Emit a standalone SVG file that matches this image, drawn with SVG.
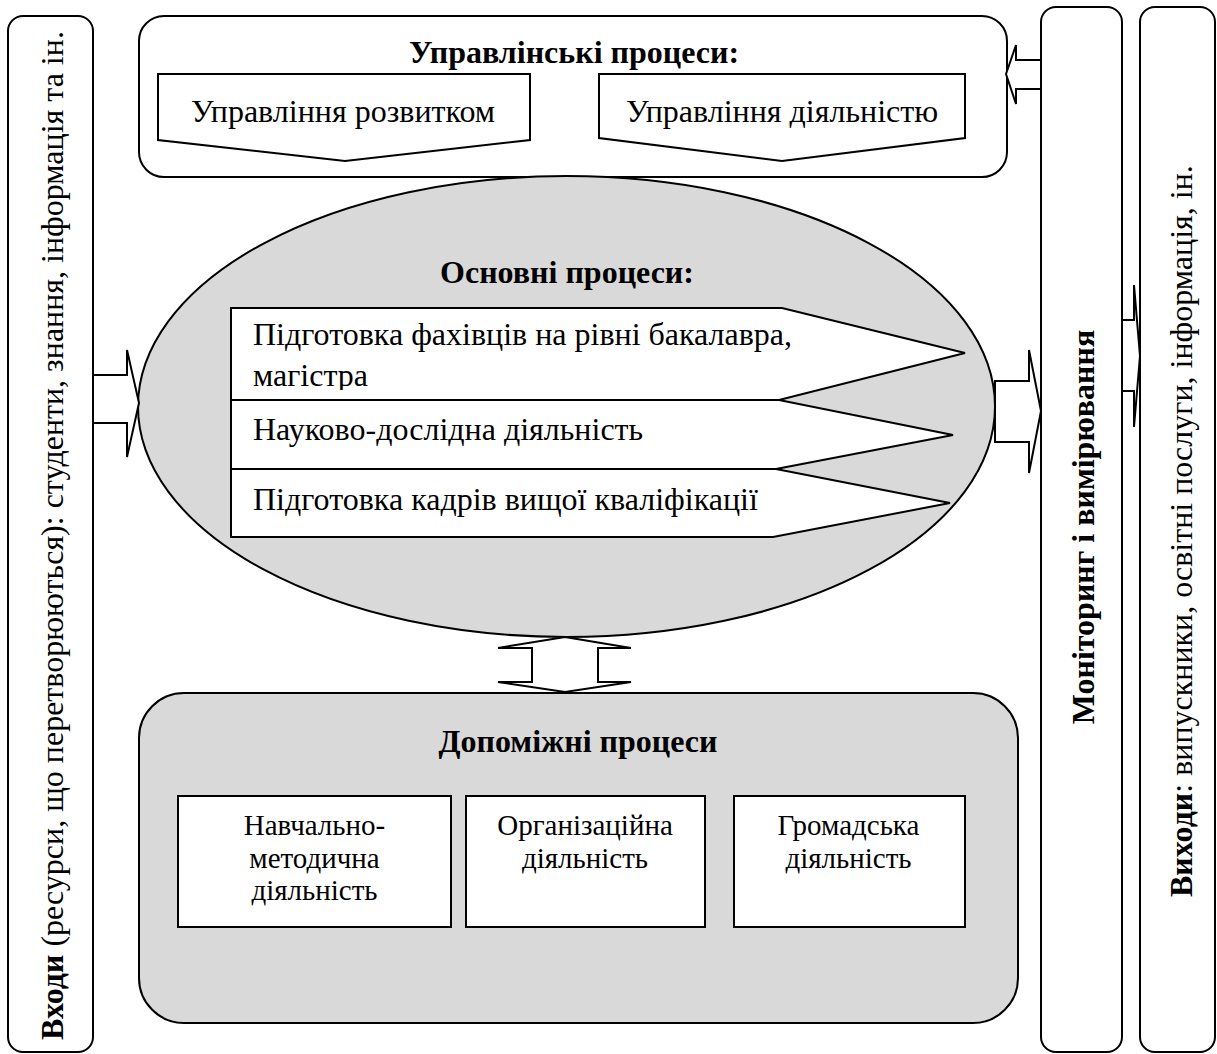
<svg xmlns="http://www.w3.org/2000/svg" width="1217" height="1054" viewBox="0 0 1217 1054">
<style>
.ln{stroke:#000;stroke-width:2;fill:#fff}
.gr{stroke:#000;stroke-width:2;fill:#d9d9d9}
.t{font-family:"Liberation Serif","Times New Roman",serif;font-size:32px;fill:#000}
.s{font-size:29px}
.b{font-weight:bold}
</style>
<defs>
<clipPath id="r1clip"><rect x="231" y="309" width="560" height="81"/></clipPath>
</defs>
<g id="inputs">
<rect class="ln" x="8" y="16" width="85" height="1036" rx="15"/>
<text class="t" transform="translate(63,1040) rotate(-90)"><tspan class="b">Входи</tspan> (ресурси, що перетворюються): студенти, знання, інформація та ін.</text>
</g>
<g id="monitoring">
<rect class="ln" x="1041" y="7" width="81" height="1045" rx="15"/>
<text class="t b" text-anchor="middle" transform="translate(1094,527) rotate(-90)">Моніторинг і вимірювання</text>
</g>
<g id="outputs">
<rect class="ln" x="1140" y="7" width="75" height="1045" rx="15"/>
<text class="t" transform="translate(1192,897) rotate(-90)"><tspan class="b">Виходи</tspan>: випускники, освітні послуги, інформація, ін.</text>
</g>
<g id="management">
<rect class="ln" x="139" y="16" width="868" height="161" rx="25"/>
<text class="t b" x="574" y="63" text-anchor="middle">Управлінські процеси:</text>
<g id="mgmt-dev">
<polygon class="ln" points="158,74 530,74 530,140 345,161 158,140"/>
<text class="t" x="343" y="122" text-anchor="middle">Управління розвитком</text>
</g>
<g id="mgmt-act">
<polygon class="ln" points="599,74 965,74 965,138 782,161 599,138"/>
<text class="t" x="782" y="122" text-anchor="middle">Управління діяльністю</text>
</g>
</g>
<g id="core">
<ellipse class="gr" cx="566.5" cy="406.5" rx="428.5" ry="230.5"/>
<text class="t b" x="567" y="283" text-anchor="middle">Основні процеси:</text>
<g id="core-1">
<polygon class="ln" points="231,308 782,308 965,353 779,400 231,400"/>
<text class="t" x="253" y="345">Підготовка фахівців на рівні бакалавра,</text>
<text class="t" x="253" y="386" clip-path="url(#r1clip)">магістра</text>
</g>
<g id="core-2">
<polygon class="ln" points="231,400 779,400 953,435 776,469 231,469"/>
<text class="t" x="253" y="440">Науково-дослідна діяльність</text>
</g>
<g id="core-3">
<polygon class="ln" points="231,469 776,469 950,503 773,537 231,537"/>
<text class="t" x="253" y="510">Підготовка кадрів вищої кваліфікації</text>
</g>
</g>
<g id="support">
<rect class="gr" x="139" y="693" width="879" height="330" rx="45"/>
<text class="t b" x="578" y="752" text-anchor="middle">Допоміжні процеси</text>
<g id="sup-1">
<rect class="ln" x="178" y="796" width="273" height="131"/>
<text class="t s" text-anchor="middle" x="314.5" y="835">Навчально-<tspan x="314.5" dy="32.5">методична</tspan><tspan x="314.5" dy="32.5">діяльність</tspan></text>
</g>
<g id="sup-2">
<rect class="ln" x="466" y="796" width="239" height="131"/>
<text class="t s" text-anchor="middle" x="585" y="835">Організаційна<tspan x="585" dy="32.5">діяльність</tspan></text>
</g>
<g id="sup-3">
<rect class="ln" x="734" y="796" width="231" height="131"/>
<text class="t s" text-anchor="middle" x="848.5" y="835">Громадська<tspan x="848.5" dy="32.5">діяльність</tspan></text>
</g>
</g>
<g id="connectors">
<polygon class="ln" points="93,375 127,375 127,350 139,403 127,457 127,423 93,423"/>
<polygon class="ln" points="1041,60 1016,60 1016,45 1006,74 1016,104 1016,89 1041,89"/>
<polygon class="ln" points="995,381 1029,381 1029,350 1041,411 1029,473 1029,442 995,442"/>
<polygon class="ln" points="1122,320 1134,320 1134,285 1140,356 1134,427 1134,391 1122,391"/>
<polygon class="ln" points="565,637 631,648 598,648 598,682 631,682 565,692 498,682 532,682 532,648 498,648"/>
</g>
</svg>
